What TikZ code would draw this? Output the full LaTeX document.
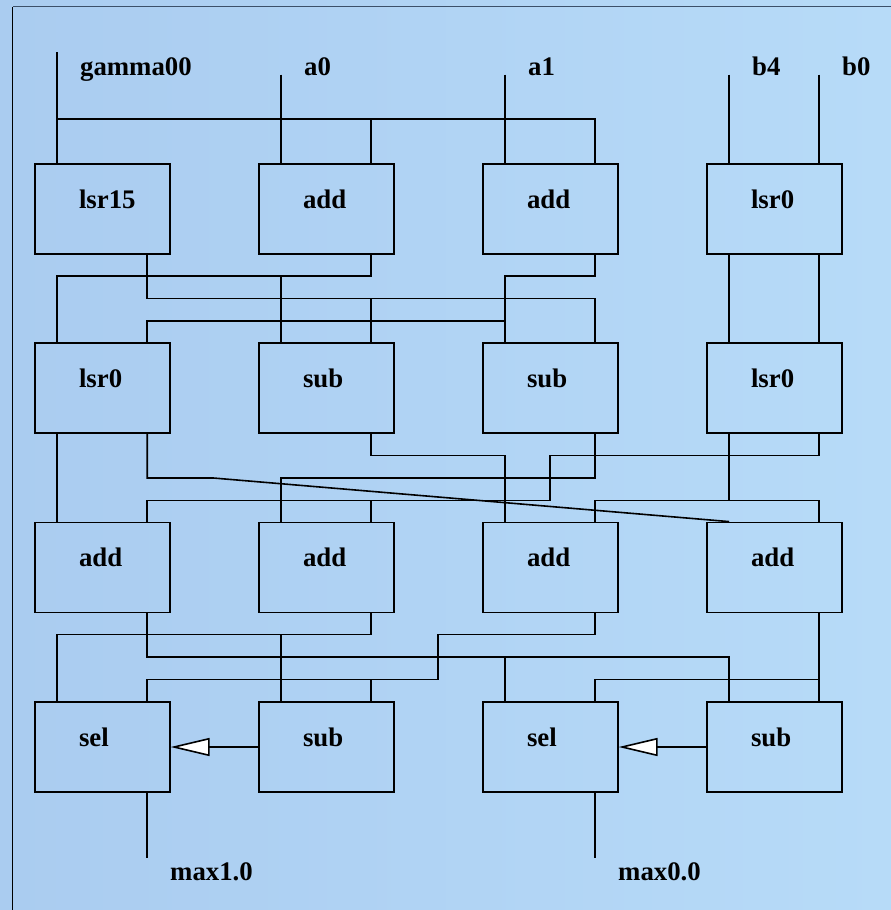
\documentclass[tikz,border=0pt]{standalone}
\usepackage{fontspec}
\setmainfont{Liberation Serif}
\usetikzlibrary{calc,arrows.meta}

\definecolor{bgleft}{RGB}{170,204,240}
\definecolor{bgright}{RGB}{183,219,248}
\definecolor{frametop}{RGB}{60,80,105}

\tikzset{
  unit/.style={draw=black, line width=1.8pt, minimum width=135pt, minimum height=90pt, inner sep=0pt},
  lbl/.style={anchor=base west, inner sep=0pt, font=\fontsize{26.8}{30}\selectfont\bfseries},
  wire/.style={draw=black, line width=1.6pt},
  flow/.style={wire, -{Triangle[open, fill=white, length=39pt, width=18pt, line width=1.6pt]}}
}

\begin{document}
\begin{tikzpicture}[x=1pt, y=-1pt]
  \useasboundingbox (0,0) rectangle (891,910);
  \shade[left color=bgleft, right color=bgright] (0,0) rectangle (891,910);
  \draw[black, line width=1.3pt] (12.5,910) -- (12.5,6.5);
  \draw[frametop, line width=1.3pt] (12.5,6.5) -- (891,6.5);

  % operator units: rows A..D, columns 0..3
  \node[unit] (A0) at (102.2,209) {};
  \node[unit] (A1) at (326.2,209) {};
  \node[unit] (A2) at (550.2,209) {};
  \node[unit] (A3) at (774.2,209) {};
  \node[unit] (B0) at (102.2,388) {};
  \node[unit] (B1) at (326.2,388) {};
  \node[unit] (B2) at (550.2,388) {};
  \node[unit] (B3) at (774.2,388) {};
  \node[unit] (C0) at (102.2,567.5) {};
  \node[unit] (C1) at (326.2,567.5) {};
  \node[unit] (C2) at (550.2,567.5) {};
  \node[unit] (C3) at (774.2,567.5) {};
  \node[unit] (D0) at (102.2,747) {};
  \node[unit] (D1) at (326.2,747) {};
  \node[unit] (D2) at (550.2,747) {};
  \node[unit] (D3) at (774.2,747) {};

  % unit captions
  \node[lbl] (A0t) at ($(A0.north west)+(45,45)$) {lsr15};
  \node[lbl] (A1t) at ($(A1.north west)+(45,45)$) {add};
  \node[lbl] (A2t) at ($(A2.north west)+(45,45)$) {add};
  \node[lbl] (A3t) at ($(A3.north west)+(45,45)$) {lsr0};
  \node[lbl] (B0t) at ($(B0.north west)+(45,45)$) {lsr0};
  \node[lbl] (B1t) at ($(B1.north west)+(45,45)$) {sub};
  \node[lbl] (B2t) at ($(B2.north west)+(45,45)$) {sub};
  \node[lbl] (B3t) at ($(B3.north west)+(45,45)$) {lsr0};
  \node[lbl] (C0t) at ($(C0.north west)+(45,45)$) {add};
  \node[lbl] (C1t) at ($(C1.north west)+(45,45)$) {add};
  \node[lbl] (C2t) at ($(C2.north west)+(45,45)$) {add};
  \node[lbl] (C3t) at ($(C3.north west)+(45,45)$) {add};
  \node[lbl] (D0t) at ($(D0.north west)+(45,45)$) {sel};
  \node[lbl] (D1t) at ($(D1.north west)+(45,45)$) {sub};
  \node[lbl] (D2t) at ($(D2.north west)+(45,45)$) {sel};
  \node[lbl] (D3t) at ($(D3.north west)+(45,45)$) {sub};

  % ports: two inputs on top, two outputs below
  \foreach \n in {A0,A1,A2,A3,B0,B1,B2,B3,C0,C1,C2,C3,D0,D1,D2,D3} {
    \coordinate (\n-iL) at ($(\n.north)+(-45,0)$);
    \coordinate (\n-iR) at ($(\n.north)+(45,0)$);
    \coordinate (\n-oL) at ($(\n.south)+(-45,0)$);
    \coordinate (\n-oR) at ($(\n.south)+(45,0)$);
  }

  % routing channel levels
  \coordinate (h0)  at (0,119);
  \coordinate (h1a) at (0,276);
  \coordinate (h1b) at (0,298.5);
  \coordinate (h1c) at (0,321);
  \coordinate (h2a) at (0,455.5);
  \coordinate (h2b) at (0,478);
  \coordinate (h2c) at (0,500.5);
  \coordinate (h3a) at (0,634.5);
  \coordinate (h3b) at (0,657);
  \coordinate (h3c) at (0,679.5);

  % primary inputs
  \coordinate (gin)  at (57.2,52);
  \coordinate (a0in) at (281.2,74.7);
  \coordinate (a1in) at (505.2,74.7);
  \coordinate (b4in) at (729.2,74.7);
  \coordinate (b0in) at (819.2,74.7);
  \node[lbl] (gl)  at (79.9,75) {gamma00};
  \node[lbl] (a0l) at (304,75) {a0};
  \node[lbl] (a1l) at (528,75) {a1};
  \node[lbl] (b4l) at (752,75) {b4};
  \node[lbl] (b0l) at (842,75) {b0};

  \draw[wire] (gin) -- (A0-iL);
  \draw[wire] (A0-iL |- h0) -| (A2-iR);
  \draw[wire] (A1-iR |- h0) -- (A1-iR);
  \draw[wire] (a0in) -- (A1-iL);
  \draw[wire] (a1in) -- (A2-iL);
  \draw[wire] (b4in) -- (A3-iL);
  \draw[wire] (b0in) -- (A3-iR);

  % row A -> row B
  \draw[wire] (A1-oR) |- (B0-iL |- h1a) -- (B0-iL);
  \draw[wire] (B1-iL |- h1a) -- (B1-iL);
  \draw[wire] (A0-oR) |- (B2-iR |- h1b) -- (B2-iR);
  \draw[wire] (B1-iR |- h1b) -- (B1-iR);
  \draw[wire] (A2-oR) |- (B2-iL |- h1a) -- (B2-iL);
  \draw[wire] (B2-iL |- h1c) -| (B0-iR);
  \draw[wire] (A3-oL) -- (B3-iL);
  \draw[wire] (A3-oR) -- (B3-iR);

  % row B -> row C
  \coordinate (kink) at (213.3,478);
  \coordinate (j1) at (550,455.5);
  \coordinate (j2) at (550,500.5);
  \draw[wire] (B0-oL) -- (C0-iL);
  \draw[wire] (B0-oR) |- (kink) -- (C3-iL);
  \draw[wire] (B1-oR) |- (C2-iL |- h2a) -- (C2-iL);
  \draw[wire] (B3-oR) |- (j1) -- (j2) -| (C0-iR);
  \draw[wire] (C1-iR |- h2c) -- (C1-iR);
  \draw[wire] (B2-oR) |- (C1-iL |- h2b) -- (C1-iL);
  \draw[wire] (B3-oL) -- (B3-oL |- h2c);
  \draw[wire] (C2-iR) |- (C3-iR |- h2c) -- (C3-iR);

  % row C -> row D
  \coordinate (k1) at (437.7,634.5);
  \coordinate (k2) at (437.7,679.5);
  \draw[wire] (C0-oR) |- (D3-iL |- h3b) -- (D3-iL);
  \draw[wire] (D2-iL |- h3b) -- (D2-iL);
  \draw[wire] (C1-oR) |- (D0-iL |- h3a) -- (D0-iL);
  \draw[wire] (D1-iL |- h3a) -- (D1-iL);
  \draw[wire] (C2-oR) |- (k1) -- (k2) -| (D0-iR);
  \draw[wire] (D1-iR |- h3c) -- (D1-iR);
  \draw[wire] (C3-oR) -- (D3-iR);
  \draw[wire] (D3-iR |- h3c) -| (D2-iR);

  % compare results driving the selectors
  \draw[flow] (D1.west) -- (D0.east);
  \draw[flow] (D3.west) -- (D2.east);

  % primary outputs
  \coordinate (out1) at (147.2,858);
  \coordinate (out0) at (595.2,858);
  \draw[wire] (D0-oR) -- (out1);
  \draw[wire] (D2-oR) -- (out0);
  \node[lbl] (o1l) at (170,880) {max1.0};
  \node[lbl] (o0l) at (618,880) {max0.0};
\end{tikzpicture}
\end{document}
